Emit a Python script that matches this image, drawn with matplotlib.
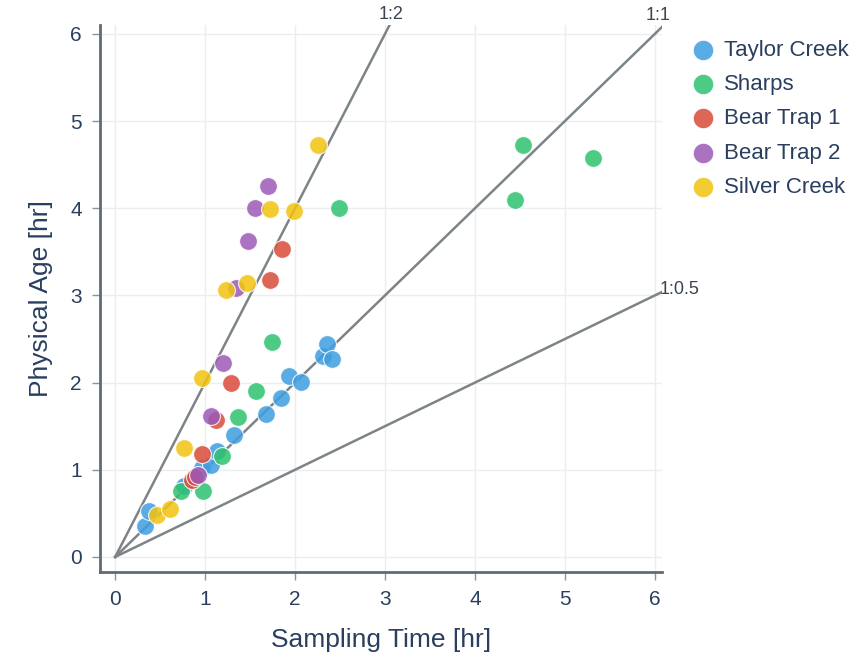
import matplotlib.pyplot as plt
import numpy as np

plt.rcParams['font.family'] = ['Liberation Sans', 'DejaVu Sans']

# sampling time [hr], physical age [hr] per site
taylor_x = [0.33, 0.38, 0.76, 0.97, 1.07, 1.13, 1.32, 1.68, 1.84, 1.93, 2.07, 2.31, 2.35, 2.41]
taylor_y = [0.35, 0.53, 0.81, 1.02, 1.06, 1.22, 1.40, 1.64, 1.82, 2.07, 2.01, 2.31, 2.44, 2.27]
sharps_x = [0.73, 0.98, 1.19, 1.37, 1.57, 1.74, 2.49, 4.44, 4.53, 5.31]
sharps_y = [0.76, 0.76, 1.16, 1.61, 1.90, 2.47, 4.00, 4.09, 4.72, 4.58]
bear1_x = [0.85, 0.89, 0.97, 1.12, 1.29, 1.72, 1.86]
bear1_y = [0.88, 0.92, 1.18, 1.57, 1.99, 3.18, 3.53]
bear2_x = [0.92, 1.06, 1.20, 1.34, 1.48, 1.55, 1.70]
bear2_y = [0.94, 1.62, 2.22, 3.08, 3.62, 4.00, 4.25]
silver_x = [0.46, 0.61, 0.76, 0.96, 1.23, 1.46, 1.72, 1.99, 2.26]
silver_y = [0.48, 0.55, 1.25, 2.05, 3.06, 3.14, 3.99, 3.97, 4.72]

sites = ['Taylor Creek', 'Sharps', 'Bear Trap 1', 'Bear Trap 2', 'Silver Creek']
xs = [taylor_x, sharps_x, bear1_x, bear2_x, silver_x]
ys = [taylor_y, sharps_y, bear1_y, bear2_y, silver_y]
colors = ['#3f9ee0', '#2ec26e', '#d94b3a', '#9b59b6', '#f1c40f']

ratios = [2, 1, 0.5]
ratio_labels = ['1:2', '1:1', '1:0.5']

text_col = '#2a3f5f'
xmin, xmax = -0.17, 6.08
ymin, ymax = -0.17, 6.1

fig = plt.figure(figsize=(8.61, 6.61), dpi=100)
ax = fig.add_axes([0.116, 0.135, 0.653, 0.827])

# reference lines through origin
for k, lab in zip(ratios, ratio_labels):
    x_end = min(xmax, ymax / k)
    ax.plot([0, x_end], [0, k * x_end], color='#7d8488', lw=1.8, zorder=1)
    if k > 1:
        ax.text(x_end + 0.02, k * x_end + 0.03, lab, fontsize=13, color='#3b4552',
                ha='center', va='bottom', clip_on=False)
    elif k == 1:
        ax.text(x_end - 0.05, k * x_end + 0.03, lab, fontsize=13, color='#3b4552',
                ha='center', va='bottom', clip_on=False)
    else:
        ax.text(x_end - 0.03, k * x_end + 0.03, lab, fontsize=13, color='#3b4552',
                ha='left', va='center', clip_on=False)

for x, y, c, name in zip(xs, ys, colors, sites):
    ax.scatter(x, y, s=165, color=c, alpha=0.85, edgecolors='white',
               linewidths=0.8, label=name, zorder=3)

ax.set_xlim(xmin, xmax)
ax.set_ylim(ymin, ymax)
ax.set_xticks(np.arange(0, 7))
ax.set_yticks(np.arange(0, 7))
ax.grid(True, color='#ebedf0', lw=1)
ax.set_axisbelow(True)

ax.spines['right'].set_visible(False)
ax.spines['top'].set_visible(False)
for s in ['left', 'bottom']:
    ax.spines[s].set_color('#606b73')
    ax.spines[s].set_linewidth(2)
ax.tick_params(direction='out', length=6, width=1, color='#8a949b',
               labelsize=15, labelcolor=text_col, pad=7)

ax.set_xlabel('Sampling Time [hr]', fontsize=19, color=text_col, labelpad=14)
ax.set_ylabel('Physical Age [hr]', fontsize=19, color=text_col, labelpad=12)

leg = ax.legend(loc='upper left', bbox_to_anchor=(1.02, 0.998), frameon=False,
                fontsize=16, handletextpad=0.2, labelspacing=0.6,
                markerscale=1.15, borderaxespad=0.2, handlelength=1.5)
for t in leg.get_texts():
    t.set_color(text_col)
for h in leg.legend_handles:
    h.set_alpha(0.85)

fig.savefig('out.png', dpi=100)
